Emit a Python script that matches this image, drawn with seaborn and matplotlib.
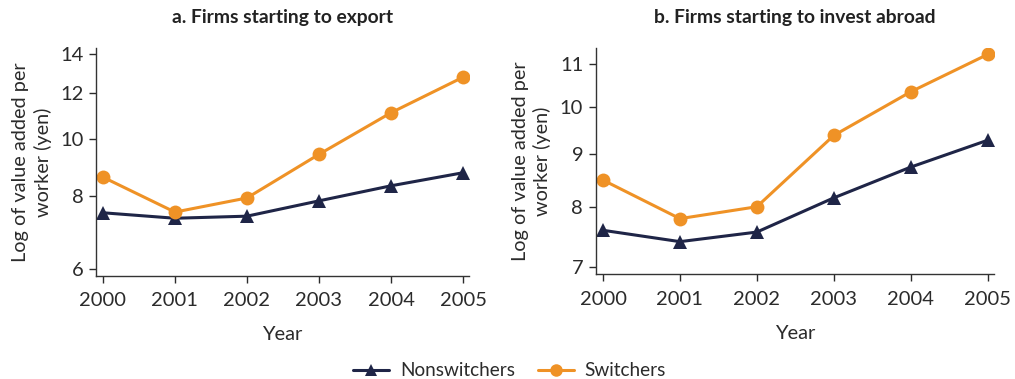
import numpy as np
import pandas as pd
import matplotlib
matplotlib.use("Agg")
import matplotlib.pyplot as plt
from matplotlib.ticker import FixedLocator, FixedFormatter, NullLocator
from matplotlib.lines import Line2D
import seaborn as sns

years = [2000, 2001, 2002, 2003, 2004, 2005]

export_nonswitchers = [7.49, 7.33, 7.39, 7.85, 8.33, 8.77]
export_switchers = [8.62, 7.51, 7.94, 9.43, 11.11, 12.78]

invest_nonswitchers = [7.59, 7.40, 7.56, 8.16, 8.74, 9.28]
invest_switchers = [8.49, 7.79, 8.00, 9.38, 10.34, 11.24]

groups = ["Nonswitchers", "Switchers"]
panel_titles = ["a. Firms starting to export", "b. Firms starting to invest abroad"]
export_yticks = [6, 8, 10, 12, 14]
invest_yticks = [7, 8, 9, 10, 11]

NAVY = "#1f2547"
ORANGE = "#ef9226"
TEXT = "#2b2b2b"

sns.set_theme(style="ticks")
plt.rcParams["font.family"] = ["Lato", "DejaVu Sans"]


def panel_frame(nonsw, sw):
    return pd.DataFrame({
        "Year": years * 2,
        "value": list(nonsw) + list(sw),
        "Group": [groups[0]] * len(years) + [groups[1]] * len(years),
    })


fig = plt.figure(figsize=(10.15, 3.79), dpi=100)
ax1 = fig.add_axes([0.0946, 0.2726, 0.3675, 0.6008])
ax2 = fig.add_axes([0.5869, 0.2763, 0.3924, 0.5978])

panels = [
    (ax1, panel_frame(export_nonswitchers, export_switchers), export_yticks, (5.845, 14.34)),
    (ax2, panel_frame(invest_nonswitchers, invest_switchers), invest_yticks, (6.88, 11.41)),
]

for (ax, df, yticks, ylim), title in zip(panels, panel_titles):
    sns.lineplot(
        data=df, x="Year", y="value", hue="Group", style="Group",
        palette={groups[0]: NAVY, groups[1]: ORANGE},
        markers={groups[0]: "^", groups[1]: "o"}, dashes=False,
        markersize=10, markeredgewidth=0, linewidth=2.2,
        ax=ax, legend=False,
    )
    ax.set_yscale("log")
    ax.set_ylim(*ylim)
    ax.set_xlim(1999.905, 2005.083)
    ax.yaxis.set_major_locator(FixedLocator(yticks))
    ax.yaxis.set_major_formatter(FixedFormatter([str(t) for t in yticks]))
    ax.yaxis.set_minor_locator(NullLocator())
    ax.set_xticks(years)
    ax.set_xticklabels([str(y) for y in years])
    ax.tick_params(axis="both", labelsize=14.5, colors=TEXT, length=5, width=1.0,
                   direction="out")
    ax.tick_params(axis="x", pad=7)
    ax.tick_params(axis="y", pad=4)
    ax.set_xlabel("Year", fontsize=14.5, color=TEXT, labelpad=12)
    ax.set_ylabel("Log of value added per\nworker (yen)", fontsize=14.3, color=TEXT,
                  labelpad=6, linespacing=1.3)
    ax.set_title(title, fontsize=13.9, fontweight="bold", color="#222222", pad=18)
    for side in ("top", "right"):
        ax.spines[side].set_visible(False)
    for side in ("left", "bottom"):
        ax.spines[side].set_color("#333333")
        ax.spines[side].set_linewidth(1.0)

handles = [
    Line2D([], [], color=NAVY, marker="^", markersize=9, markeredgewidth=0, linewidth=2.2),
    Line2D([], [], color=ORANGE, marker="o", markersize=9, markeredgewidth=0, linewidth=2.2),
]
fig.legend(handles, groups, loc="center", bbox_to_anchor=(0.502, 0.022), ncol=2,
           frameon=False, fontsize=13.7, handlelength=1.9, columnspacing=1.2,
           handletextpad=0.55, labelcolor=TEXT, borderpad=0.0)

fig.savefig("out.png", dpi=100)
